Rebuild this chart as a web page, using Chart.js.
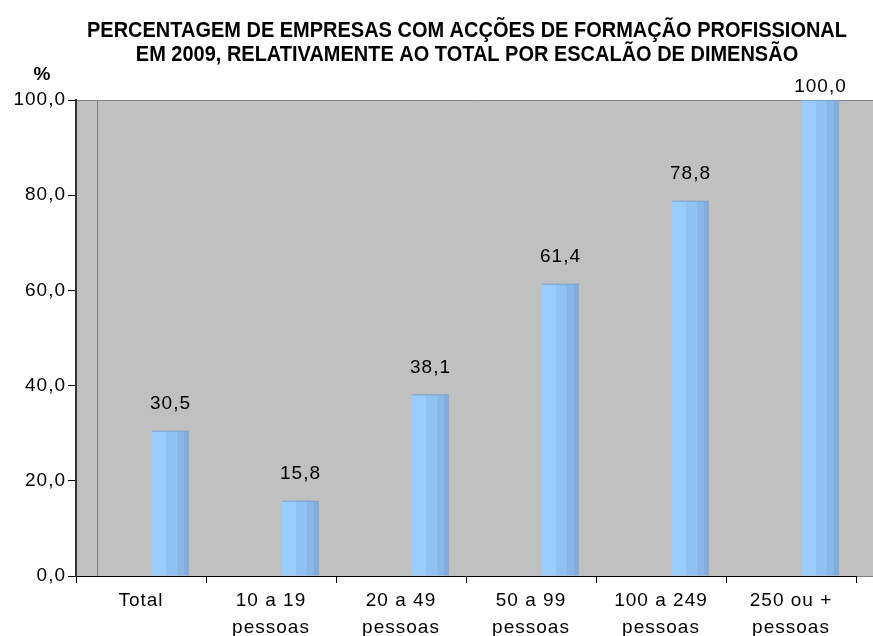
<!DOCTYPE html>
<html>
<head>
<meta charset="utf-8">
<script src="https://cdn.jsdelivr.net/npm/chart.js@4/dist/chart.umd.min.js"></script>
<style>
  html, body { margin: 0; padding: 0; background: #fff; }
  #wrap { width: 873px; height: 636px; }
</style>
</head>
<body>
<div id="wrap"><canvas id="chart" width="873" height="636"></canvas></div>
<script>
// Chart data
const categories = ['Total', ['10 a 19', 'pessoas'], ['20 a 49', 'pessoas'], ['50 a 99', 'pessoas'], ['100 a 249', 'pessoas'], ['250 ou +', 'pessoas']];
const values = [30.5, 15.8, 38.1, 61.4, 78.8, 100.0];
const yTicks = [0, 20, 40, 60, 80, 100];
const titleLines = ['PERCENTAGEM DE EMPRESAS COM ACÇÕES DE FORMAÇÃO PROFISSIONAL', 'EM 2009, RELATIVAMENTE AO TOTAL POR ESCALÃO DE DIMENSÃO'];
const yUnit = '%';

const FONT = "'Liberation Sans', Arial, sans-serif";
const fmt = (v) => v.toFixed(1).replace('.', ',');

const barFill = (ctx) => {
  const s = ctx.chart.scales.xb;
  if (!s || !isFinite(s.left)) return '#99ccff';
  const cx = s.getPixelForValue(ctx.dataIndex);
  const x0 = cx - 18.5, x1 = cx + 18.5;
  const g = ctx.chart.ctx.createLinearGradient(x0, 0, x1, 0);
  g.addColorStop(0, '#99ccff'); g.addColorStop(0.38, '#99ccff');
  g.addColorStop(0.38, '#8fc1f2'); g.addColorStop(0.68, '#8fc1f2');
  g.addColorStop(0.68, '#88b7e8'); g.addColorStop(0.86, '#88b7e8');
  g.addColorStop(0.86, '#80addd'); g.addColorStop(1, '#80addd');
  return g;
};

const backdrop = {
  id: 'backdrop',
  beforeDraw(chart) {
    const { ctx, chartArea: a } = chart;
    ctx.save();
    ctx.fillStyle = '#fff';
    ctx.fillRect(0, 0, chart.width, chart.height);
    ctx.fillStyle = '#c0c0c0';
    ctx.fillRect(a.left, a.top, chart.width - a.left, a.bottom - a.top);
    ctx.strokeStyle = '#808080';
    ctx.lineWidth = 1;
    ctx.beginPath();
    ctx.moveTo(a.left, a.top + 0.5); ctx.lineTo(chart.width, a.top + 0.5);
    ctx.moveTo(a.left + 21.5, a.top); ctx.lineTo(a.left + 21.5, a.bottom);
    ctx.moveTo(a.right, a.bottom + 0.5); ctx.lineTo(chart.width, a.bottom + 0.5);
    ctx.stroke();
    ctx.restore();
    ctx.letterSpacing = '1px';
  },
  afterDraw(chart) {
    const { ctx } = chart;
    ctx.save();
    ctx.fillStyle = '#000';
    ctx.textAlign = 'center';
    ctx.textBaseline = 'alphabetic';
    ctx.letterSpacing = '0px';
    ctx.font = 'bold 22px ' + FONT;
    // narrow face is not installed: squeeze the bold face to the title width
    const sx = 760 / ctx.measureText(titleLines[0]).width;
    ctx.save();
    ctx.translate(467, 0);
    ctx.scale(sx, 1);
    ctx.fillText(titleLines[0], 0, 37);
    ctx.fillText(titleLines[1], 0, 61);
    ctx.restore();
    ctx.font = 'bold 19px ' + FONT;
    ctx.fillText(yUnit, 42, 80);
    ctx.restore();
  }
};

const valueLabels = {
  id: 'valueLabels',
  afterDatasetsDraw(chart) {
    const { ctx, chartArea: a } = chart;
    const meta = chart.getDatasetMeta(0);
    ctx.save();
    ctx.fillStyle = '#000';
    ctx.font = '19px ' + FONT;
    ctx.textAlign = 'center';
    ctx.textBaseline = 'middle';
    meta.data.forEach((bar, i) => {
      const y = Math.max(bar.y - 27, a.top - 13);
      ctx.fillText(fmt(values[i]), bar.x, y);
    });
    ctx.restore();
  }
};

new Chart(document.getElementById('chart'), {
  type: 'bar',
  data: {
    labels: categories,
    datasets: [{
      data: values.map((v, i) => ({ x: i, y: v })),
      xAxisID: 'xb',
      backgroundColor: barFill,
      borderColor: '#6f98c4',
      borderWidth: { top: 1, left: 0, right: 0, bottom: 0 },
      borderSkipped: 'bottom',
      barThickness: 37
    }]
  },
  options: {
    responsive: false,
    animation: false,
    devicePixelRatio: 1,
    layout: { padding: { top: 100, right: 17, left: 0, bottom: 0 } },
    plugins: { legend: { display: false }, tooltip: { enabled: false }, title: { display: false } },
    scales: {
      x: {
        type: 'category',
        position: 'bottom',
        afterFit: (s) => { s.height = 60; },
        grid: { offset: true, drawOnChartArea: false, tickLength: 7, color: '#000' },
        border: { color: '#000', width: 1 },
        ticks: { color: '#000', font: { family: FONT, size: 19, lineHeight: 1.38 }, padding: 5, maxRotation: 0, autoSkip: false }
      },
      xb: {
        type: 'linear',
        display: false,
        offset: false,
        grid: { offset: false },
        min: -(94.5 / 130),
        max: 6 - (94.5 / 130)
      },
      y: {
        min: 0,
        max: 100,
        afterFit: (s) => { s.width = 76; },
        afterBuildTicks: (s) => { s.ticks = yTicks.map(v => ({ value: v })); },
        grid: { drawOnChartArea: false, tickLength: 8, color: '#000' },
        border: { color: '#333', width: 2 },
        ticks: { color: '#000', font: { family: FONT, size: 19 }, padding: 2, callback: (v) => fmt(v) }
      }
    }
  },
  plugins: [backdrop, valueLabels]
});
</script>
</body>
</html>
